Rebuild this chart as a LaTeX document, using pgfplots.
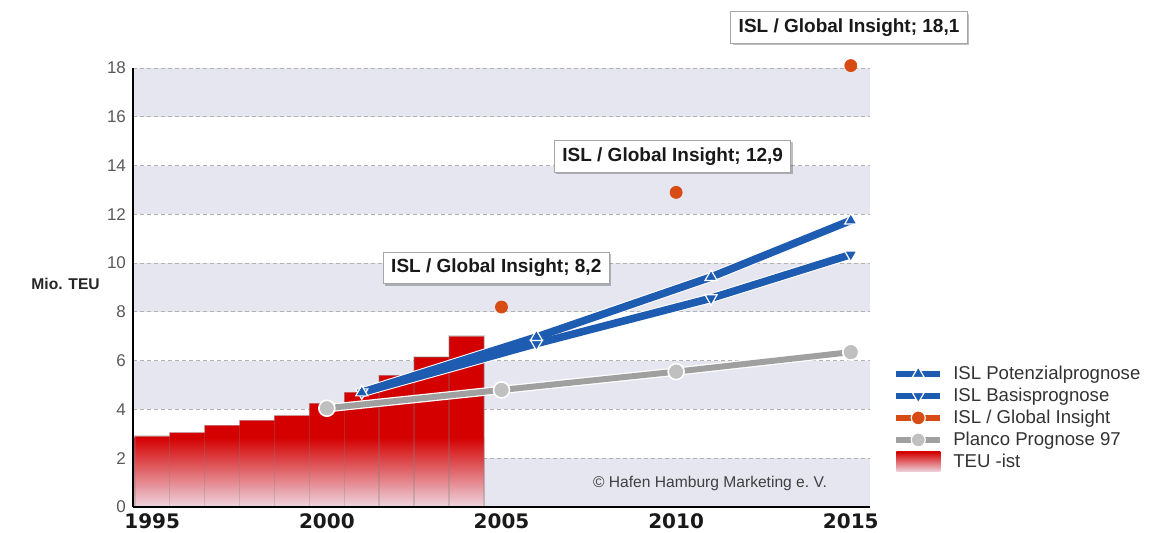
\documentclass[border=0pt]{standalone}
\usepackage{fontspec}
\setmainfont{Liberation Sans}
\newfontfamily\verd{DejaVu Sans}
\usepackage{pgfplots}
\pgfplotsset{compat=1.18}
\usetikzlibrary{shadows}
\definecolor{band}{RGB}{230,230,240}
\definecolor{islblue}{RGB}{30,92,178}
\definecolor{giorange}{RGB}{215,75,20}
\definecolor{plgrey}{RGB}{160,160,160}
\definecolor{plmark}{RGB}{192,192,192}
\definecolor{teured}{RGB}{212,0,0}
\definecolor{teulight}{RGB}{238,214,224}
\begin{document}
\begin{tikzpicture}[
  lbl/.style={fill=white, draw=black!35, line width=0.5pt, inner xsep=4pt, inner ysep=3.5pt,
    font=\bfseries\fontsize{9.5}{11}\selectfont, text=black!90,
    drop shadow={shadow xshift=1pt, shadow yshift=-1pt, opacity=0.25, fill=black}},
  gridl/.style={black!30, line width=0.5pt, dash pattern=on 2pt off 1.5pt}]
\useasboundingbox (-66.5pt,-12.5pt) rectangle (512pt,253.5pt);
\begin{axis}[
  at={(0pt,0pt)}, anchor=south west, scale only axis,
  width=368.5pt, height=219.5pt,
  xmin=1994.45, xmax=2015.55, ymin=0, ymax=18,
  axis x line*=bottom, axis y line*=left,
  axis line style={black, line width=1pt},
  axis on top,
  xtick={1995,2000,2005,2010,2015}, ytick={0,2,...,18},
  major tick length=0pt,
  /pgf/number format/1000 sep={},
  /pgf/number format/assume math mode=true,
  x tick label style={font=\verd\bfseries\fontsize{10}{12}\selectfont, text=black!90, inner sep=1pt, yshift=-2.3pt},
  y tick label style={font=\fontsize{8.5}{10}\selectfont, text=black!65},
  clip=false,
  legend style={at={(1.031,0.328)}, anchor=north west, draw=none, fill=none, inner sep=0pt,
    font=\fontsize{9.3}{11}\selectfont, text=black!80, row sep=0.5pt, column sep=4pt,
    nodes={inner sep=1pt}},
  legend cell align=left,
  legend image code/.code={\draw[mark repeat=2,mark phase=2] plot coordinates {(0pt,0pt) (11pt,0pt) (22pt,0pt)};},
]
% background bands
\fill[band] (axis cs:1994.45,0) rectangle (axis cs:2015.55,2);
\fill[band] (axis cs:1994.45,4) rectangle (axis cs:2015.55,6);
\fill[band] (axis cs:1994.45,8) rectangle (axis cs:2015.55,10);
\fill[band] (axis cs:1994.45,12) rectangle (axis cs:2015.55,14);
\fill[band] (axis cs:1994.45,16) rectangle (axis cs:2015.55,18);
% grid
\draw[gridl] (axis cs:1994.45,2) -- (axis cs:2015.55,2);
\draw[gridl] (axis cs:1994.45,4) -- (axis cs:2015.55,4);
\draw[gridl] (axis cs:1994.45,6) -- (axis cs:2015.55,6);
\draw[gridl] (axis cs:1994.45,8) -- (axis cs:2015.55,8);
\draw[gridl] (axis cs:1994.45,10) -- (axis cs:2015.55,10);
\draw[gridl] (axis cs:1994.45,12) -- (axis cs:2015.55,12);
\draw[gridl] (axis cs:1994.45,14) -- (axis cs:2015.55,14);
\draw[gridl] (axis cs:1994.45,16) -- (axis cs:2015.55,16);
\draw[gridl] (axis cs:1994.45,18) -- (axis cs:2015.55,18);

% legend
\addlegendimage{islblue, line width=3pt, mark=triangle*, mark size=3.5pt, mark options={fill=islblue, draw=white, line width=0.6pt}}
\addlegendentry{\rule[-2.5pt]{0pt}{9.5pt}ISL Potenzialprognose}
\addlegendimage{islblue, line width=3pt, mark=triangle*, mark size=3.5pt, mark options={fill=islblue, draw=white, line width=0.6pt, rotate=180}}
\addlegendentry{\rule[-2.5pt]{0pt}{9.5pt}ISL Basisprognose}
\addlegendimage{giorange, line width=3pt, mark=*, mark size=3.5pt, mark options={fill=giorange, draw=white, line width=0.6pt}}
\addlegendentry{\rule[-2.5pt]{0pt}{9.5pt}ISL / Global Insight}
\addlegendimage{plgrey, line width=3pt, mark=*, mark size=3.5pt, mark options={fill=plmark, draw=white, line width=0.6pt}}
\addlegendentry{\rule[-2.5pt]{0pt}{9.5pt}Planco Prognose 97}
\addlegendimage{legend image code/.code={\path[draw=none, top color=teured, bottom color=teulight] (0pt,-5pt) rectangle (22pt,5pt);}}
\addlegendentry{\rule[-2.5pt]{0pt}{9.5pt}TEU -ist}

% TEU bars (solid)
\addplot[ybar, bar width=1, bar shift=0pt, draw=none, fill=teured, forget plot]
  coordinates {(1995,2.9) (1996,3.05) (1997,3.35) (1998,3.55) (1999,3.75) (2000,4.25) (2001,4.7) (2002,5.4) (2003,6.15) (2004,7.0)};
% fading of the lower part of the bars
\shade[top color=teured, bottom color=teulight] (axis cs:1994.5,0) rectangle (axis cs:2004.5,2.85);
% bar outlines
\addplot[ybar, bar width=1, bar shift=0pt, fill=none, draw=black!50, draw opacity=0.3, line width=0.8pt, forget plot]
  coordinates {(1995,2.9) (1996,3.05) (1997,3.35) (1998,3.55) (1999,3.75) (2000,4.25) (2001,4.7) (2002,5.4) (2003,6.15) (2004,7.0)};

% Planco
\addplot[white, line width=4.2pt, forget plot] coordinates {(2000,4.05) (2005,4.8) (2010,5.55) (2015,6.35)};
\addplot[plgrey, line width=3pt, mark=*, mark size=4pt, mark options={fill=plmark, draw=white, line width=0.8pt}, forget plot]
  coordinates {(2000,4.05) (2005,4.8) (2010,5.55) (2015,6.35)};

% ISL halos
\addplot[white, line width=4.8pt, forget plot] coordinates {(2001,4.7) (2006,6.7) (2011,8.56) (2015,10.35)};
\addplot[white, line width=4.8pt, forget plot] coordinates {(2001,4.7) (2006,6.97) (2011,9.43) (2015,11.75)};
% ISL Basis
\addplot[islblue, line width=3.8pt, mark=triangle*, mark size=3.5pt, mark options={fill=islblue, draw=white, line width=0.6pt, rotate=180}, forget plot]
  coordinates {(2001,4.7) (2006,6.7) (2011,8.56) (2015,10.35)};
% ISL Potenzial
\addplot[islblue, line width=3.8pt, mark=triangle*, mark size=3.5pt, mark options={fill=islblue, draw=white, line width=0.6pt}, forget plot]
  coordinates {(2001,4.7) (2006,6.97) (2011,9.43) (2015,11.75)};

% Global Insight
\addplot[only marks, mark=*, mark size=3pt, mark options={fill=giorange, draw=giorange}, forget plot]
  coordinates {(2005,8.2) (2010,12.9) (2015,18.1)};

\node[lbl, yshift=19.5pt] at (axis cs:2004.85,8.2) {ISL / Global Insight; 8,2};
\node[lbl, yshift=18pt] at (axis cs:2009.9,12.9) {ISL / Global Insight; 12,9};
\node[lbl, yshift=19pt] at (axis cs:2014.95,18.1) {ISL / Global Insight; 18,1};

\node[font=\fontsize{7.8}{9}\selectfont, text=black!75] at (axis cs:2010.97,0.98) {\textcopyright\ Hafen Hamburg Marketing e.\ V.};
\node[font=\bfseries\fontsize{7.8}{9}\selectfont, text=black!85] at (axis cs:1992.52,9.14) {Mio. TEU};
\end{axis}
\end{tikzpicture}
\end{document}
